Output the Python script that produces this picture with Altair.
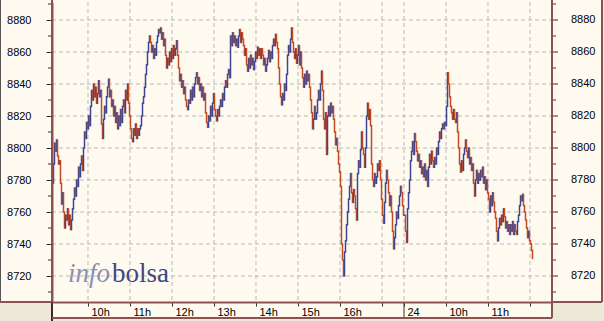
import altair as alt
import pandas as pd

# ---------------- data ----------------
Y_MAJOR = [8720, 8740, 8760, 8780, 8800, 8820, 8840, 8860, 8880]
Y_MINOR = [8710, 8730, 8750, 8770, 8790, 8810, 8830, 8850, 8870, 8890]
Y_DOMAIN = [8703.75, 8891.25]

# session hours: day 2 is appended right after day 1's close
DAY2_9H = 9 + 358 / 42          # 9:00 of day 2 on the session axis
X_DOMAIN = [9 + 6 / 42, 9 + 506 / 42]
TICK_T = [10, 11, 12, 13, 14, 15, 16, 17, DAY2_9H, DAY2_9H + 1, DAY2_9H + 2, DAY2_9H + 3]
TICK_LABELS = ["10h", "11h", "12h", "13h", "14h", "15h", "16h", "", "24", "10h", "11h", ""]

BAR_STEP = 1 / 42                # one bar every 1/42 hour
DAY1_START = 9 + 6.5 / 42
DAY2_START = DAY2_9H + 0.5 / 42

DAY1 = [
    8778, 8790, 8803, 8798, 8805, 8795, 8790, 8792, 8778, 8765,
    8772, 8760, 8750, 8758, 8755, 8762, 8752, 8758, 8749, 8755,
    8762, 8768, 8775, 8770, 8780, 8776, 8788, 8782, 8790, 8795,
    8786, 8800, 8810, 8806, 8816, 8812, 8820, 8814, 8826, 8836,
    8830, 8840, 8832, 8838, 8828, 8834, 8842, 8832, 8836, 8815,
    8806, 8818, 8826, 8822, 8832, 8838, 8843, 8832, 8836, 8826,
    8830, 8820, 8826, 8816, 8822, 8812, 8820, 8814, 8824, 8816,
    8826, 8830, 8822, 8836, 8830, 8840, 8828, 8820, 8812, 8806,
    8804, 8812, 8808, 8815, 8806, 8812, 8808, 8812, 8814, 8820,
    8828, 8832, 8838, 8846, 8852, 8860, 8866, 8870, 8866, 8860,
    8864, 8856, 8862, 8858, 8866, 8870, 8874, 8872, 8875, 8868,
    8872, 8864, 8868, 8858, 8850, 8856, 8852, 8860, 8854, 8862,
    8856, 8864, 8858, 8862, 8867, 8858, 8850, 8842, 8846, 8838,
    8842, 8834, 8838, 8830, 8826, 8824, 8830, 8828, 8836, 8830,
    8838, 8832, 8840, 8844, 8847, 8840, 8844, 8836, 8840, 8832,
    8838, 8830, 8834, 8822, 8816, 8813, 8820, 8817, 8826, 8820,
    8828, 8834, 8824, 8820, 8817, 8824, 8820, 8826, 8830, 8826,
    8834, 8830, 8838, 8842, 8838, 8846, 8849, 8844, 8870, 8864,
    8872, 8866, 8870, 8864, 8868, 8863, 8870, 8874, 8866, 8872,
    8868, 8864, 8858, 8862, 8852, 8848, 8856, 8850, 8858, 8852,
    8856, 8849, 8854, 8860, 8856, 8863, 8858, 8862, 8856, 8862,
    8858, 8852, 8856, 8848, 8852, 8856, 8861, 8854, 8860, 8856,
    8864, 8868, 8864, 8871, 8866, 8862, 8850, 8840, 8832, 8827,
    8834, 8830, 8840, 8836, 8846, 8858, 8864, 8860, 8868, 8875,
    8866, 8860, 8856, 8862, 8853, 8858, 8864, 8852, 8860, 8850,
    8844, 8838, 8846, 8840, 8848, 8842, 8846, 8838, 8830, 8822,
    8812, 8818, 8826, 8818, 8822, 8830, 8836, 8830, 8840, 8848,
    8836, 8818, 8812, 8822, 8796, 8820, 8826, 8820, 8828, 8822,
    8826, 8818, 8810, 8802, 8806, 8798, 8790, 8785, 8776, 8740,
    8730, 8720, 8735, 8742, 8752, 8760, 8768, 8776, 8784, 8772,
    8766, 8774, 8770, 8762, 8755, 8784, 8792, 8788, 8799, 8810,
    8800, 8796, 8788, 8800, 8820, 8828, 8818, 8824, 8814, 8790,
    8780, 8776, 8784, 8778, 8782, 8790, 8786, 8792, 8780, 8768,
    8758, 8753, 8766, 8778, 8786, 8780, 8772, 8764, 8770, 8760,
    8748, 8737, 8744, 8752, 8760, 8756, 8764, 8770, 8776, 8772,
    8764, 8758,
]

DAY2 = [
    8758, 8748, 8741, 8762, 8772, 8780, 8792, 8798, 8804, 8796,
    8809, 8804, 8798, 8792, 8796, 8788, 8792, 8784, 8788, 8782,
    8790, 8780, 8786, 8776, 8788, 8796, 8790, 8798, 8792, 8788,
    8794, 8790, 8800, 8796, 8804, 8810, 8806, 8812, 8815, 8812,
    8816, 8814, 8826, 8847, 8840, 8832, 8826, 8822, 8818, 8824,
    8818, 8816, 8822, 8810, 8800, 8790, 8785, 8792, 8786, 8796,
    8800, 8805, 8798, 8794, 8800, 8790, 8794, 8786, 8790, 8778,
    8770, 8780, 8786, 8778, 8784, 8780, 8786, 8782, 8788, 8778,
    8782, 8774, 8780, 8772, 8768, 8760, 8770, 8764, 8772, 8766,
    8760, 8756, 8748, 8742, 8750, 8756, 8752, 8758, 8754, 8762,
    8757, 8750, 8754, 8748, 8752, 8746, 8752, 8748, 8754, 8746,
    8752, 8748, 8746, 8754, 8758, 8764, 8770, 8767, 8771, 8764,
    8760, 8755, 8750, 8744, 8748, 8742, 8740, 8736, 8731,
]

# ---------------- styles ----------------
CREAM = "#FFFAF0"
GRAY = "#ECE9D8"
BROWN = "#8f5050"
BLUE = "#3c4590"
RED = "#c24a22"
GRID = "#b9b9b9"
FONT = "Liberation Sans"
W, H = 500, 300

rows = []
prev = DAY1[0]
for start, vals in ((DAY1_START, DAY1), (DAY2_START, DAY2)):
    for i, v in enumerate(vals):
        rows.append({"t": start + i * BAR_STEP, "lo": min(prev, v), "hi": max(prev, v),
                     "dir": "up" if v >= prev else "down"})
        prev = v
bars = pd.DataFrame(rows)

xticks = pd.DataFrame({"t": TICK_T})
ymaj = pd.DataFrame({"v": Y_MAJOR})
ymin = pd.DataFrame({"v": Y_MINOR})
sep = pd.DataFrame({"t": [DAY2_9H]})

xs = alt.Scale(domain=X_DOMAIN, nice=False, zero=False)
ys = alt.Scale(domain=Y_DOMAIN, nice=False, zero=False)

label_expr = "''"
for t, lab in reversed(list(zip(TICK_T, TICK_LABELS))):
    label_expr = f"abs(datum.value - {t}) < 0.01 ? '{lab}' : ({label_expr})"

x_axis = alt.Axis(values=TICK_T, labelExpr=label_expr, grid=False, tickSize=4, tickColor="#333333",
                  domainColor=BROWN, domainWidth=2, labelAlign="left", labelOffset=3, labelPadding=0,
                  labelBaseline="top", labelFont=FONT, labelFontSize=11, labelColor="#000000",
                  labelOverlap=False, labelFlush=False, title=None, zindex=1)
y_axis = alt.Axis(values=Y_MAJOR, grid=False, tickSize=6, tickColor="#333333", domainColor=BROWN,
                  domainWidth=2, labelPadding=15, labelFont=FONT, labelFontSize=11,
                  labelColor="#000000", format="d", title=None, zindex=1)

def X(field):
    return alt.X(field, scale=xs, axis=x_axis, title=None)

def Y(field):
    return alt.Y(field, scale=ys, axis=y_axis, title=None)

def box(x, x2, y, y2, color):
    return alt.Chart(pd.DataFrame({"a": [0]})).mark_rect(color=color).encode(
        x=alt.value(x), x2=alt.value(x2), y=alt.value(y), y2=alt.value(y2))

def line(x, x2, y, y2, color, w):
    return alt.Chart(pd.DataFrame({"a": [0]})).mark_rule(color=color, strokeWidth=w).encode(
        x=alt.value(x), x2=alt.value(x2), y=alt.value(y), y2=alt.value(y2))

panels = box(-52, 550, -2, 301, CREAM) + box(0, 500, 300, 316, CREAM)

xgrid = alt.Chart(xticks).mark_rule(color=GRID, strokeDash=[4, 3], strokeWidth=1).encode(
    x=X("t:Q"), y=alt.value(0), y2=alt.value(H))
ygrid = alt.Chart(ymaj).mark_rule(color=GRID, strokeDash=[4, 3], strokeWidth=1).encode(
    y=Y("v:Q"), x=alt.value(0), x2=alt.value(W))

series = alt.Chart(bars).mark_rule(strokeWidth=1.5, strokeCap="square").encode(
    x=X("t:Q"),
    y=Y("lo:Q"),
    y2="hi:Q",
    color=alt.Color("dir:N", scale=alt.Scale(domain=["up", "down"], range=[BLUE, RED]), legend=None),
)

wm = alt.Chart(pd.DataFrame({"a": [0]}))
wm_info = wm.mark_text(text="info", font="Liberation Serif", fontSize=27, fontStyle="italic",
                       color="#8a8fb3", align="left", baseline="alphabetic").encode(
    x=alt.value(16), y=alt.value(280))
wm_bolsa = wm.mark_text(text="bolsa", font="Liberation Serif", fontSize=27,
                        color="#3f4880", align="left", baseline="alphabetic").encode(
    x=alt.value(60), y=alt.value(280))

minor_l = alt.Chart(ymin).mark_rule(color="#333333", strokeWidth=1).encode(
    y=Y("v:Q"), x=alt.value(-4), x2=alt.value(0))
minor_r = alt.Chart(ymin).mark_rule(color="#333333", strokeWidth=1).encode(
    y=Y("v:Q"), x=alt.value(500), x2=alt.value(504))
major_r = alt.Chart(ymaj).mark_rule(color="#333333", strokeWidth=1).encode(
    y=Y("v:Q"), x=alt.value(500), x2=alt.value(506))
labels_r = alt.Chart(ymaj).mark_text(font=FONT, fontSize=11, color="#000000", align="left",
                                     baseline="middle").encode(
    y=Y("v:Q"), x=alt.value(519), text=alt.Text("v:Q", format="d"))
sep_rule = alt.Chart(sep).mark_rule(color="#333333", strokeWidth=1).encode(
    x=X("t:Q"), y=alt.value(300), y2=alt.value(316))

borders = (
    line(-51.5, -51.5, -2, 301, "#555555", 1)
    + line(-52, 0, 300, 300, BROWN, 2)
    + line(0, 0, -2, 300, BROWN, 2)
    + line(0, 0, 300, 319, "#3a2a2a", 2)
    + line(0, 500, 316, 316, BROWN, 2)
    + line(500, 500, -2, 316, BROWN, 2)
    + line(500, 550, 300, 300, BROWN, 2)
    + line(550, 550, -2, 300, BROWN, 2)
)

chart = alt.layer(
    panels, xgrid, ygrid, wm_info, wm_bolsa, series,
    minor_l, minor_r, major_r, labels_r, sep_rule, borders,
).properties(
    width=W, height=H,
    autosize=alt.AutoSizeParams(type="none"),
    padding={"left": 52, "top": 2, "right": 52, "bottom": 19},
    background=GRAY,
).configure_view(strokeWidth=0)

chart.save("out.html", embed_options={"renderer": "svg", "actions": False})
